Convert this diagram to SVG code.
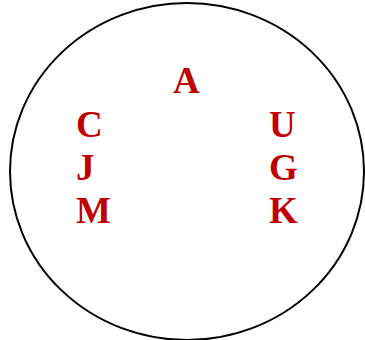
<svg xmlns="http://www.w3.org/2000/svg" width="365" height="340" viewBox="0 0 365 340">
<style>
.l{font-family:"Liberation Serif","Times New Roman",serif;font-weight:bold;font-size:37px;fill:#C00000}
</style>
<rect width="365" height="340" fill="#fff"/>
<g id="circle"><ellipse cx="187" cy="171.5" rx="177" ry="168.5" fill="none" stroke="#000" stroke-width="2"/></g>
<g id="A"><text class="l" x="173" y="93">A</text></g>
<g id="C"><text class="l" x="76" y="137">C</text></g>
<g id="J"><text class="l" x="76" y="180">J</text></g>
<g id="M"><text class="l" x="76" y="223">M</text></g>
<g id="U"><text class="l" x="269" y="137">U</text></g>
<g id="G"><text class="l" x="269" y="180">G</text></g>
<g id="K"><text class="l" x="269" y="223">K</text></g>
<g id="connectors"></g>
</svg>
